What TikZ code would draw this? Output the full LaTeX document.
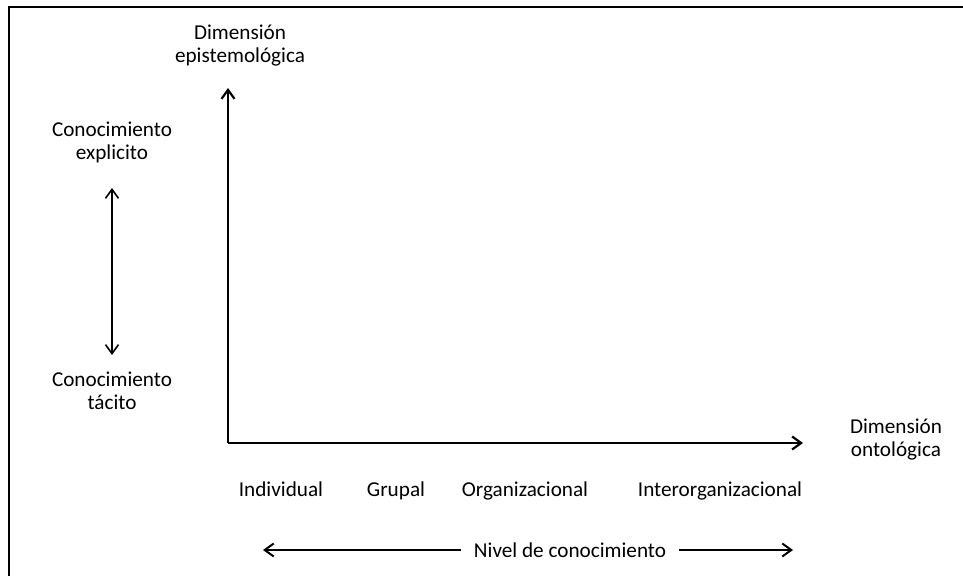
\documentclass[tikz,border=0pt]{standalone}
\usepackage{fontspec}
\setmainfont{Carlito}
\usetikzlibrary{arrows.meta}
\usetikzlibrary{positioning}

\tikzset{
  lbl/.style={font=\fontsize{10.6}{11.5}\selectfont, inner sep=0pt, align=center},
  axis/.style={line width=1.1pt, -{Straight Barb[length=4.5pt,width=6.5pt]}},
}

\begin{document}
\begin{tikzpicture}[x=0.5pt,y=-0.5pt,semithick,
    >={Straight Barb[length=4.5pt,width=6.5pt]}]
  \useasboundingbox (0,0) rectangle (963,576);
  % frame
  \draw[line width=1pt] (963,7) -- (9,7) -- (9,576);

  % axes
  \coordinate (O) at (228,443);
  \coordinate (Ytop) at (228,88);
  \coordinate (Xend) at (803,443);
  \draw[axis] (O) -- (Ytop);
  \draw[axis] (O) -- (Xend);

  \node[lbl] (epis) at (240,46) {Dimensión\\epistemológica};
  \node[lbl] (onto) at (896,440) {Dimensión\\ontológica};

  % tacit / explicit
  \node[lbl] (expl) at (112,142) {Conocimiento\\explicito};
  \node[lbl] (taci) at (112,391) {Conocimiento\\tácito};
  \coordinate (eTip) at (112,188);
  \coordinate (tTip) at (112,355);
  \draw[<->, line width=0.8pt] (eTip) -- (tTip);

  % levels
  \node[lbl, anchor=base] (indi) at (281,497) {Individual};
  \node[lbl, anchor=base] (grup) at (396,497) {Grupal};
  \node[lbl, anchor=base] (orga) at (525,497) {Organizacional};
  \node[lbl, anchor=base] (inte) at (720,497) {Interorganizacional};

  \node[lbl, anchor=base, inner xsep=6pt] (nivel) at (570,557) {Nivel de conocimiento};
  \coordinate (nL) at (263,550);
  \coordinate (nR) at (793,550);
  \draw[->, line width=1pt] (nivel.west |- nL) -- (nL);
  \draw[->, line width=1pt] (nivel.east |- nR) -- (nR);
\end{tikzpicture}
\end{document}
